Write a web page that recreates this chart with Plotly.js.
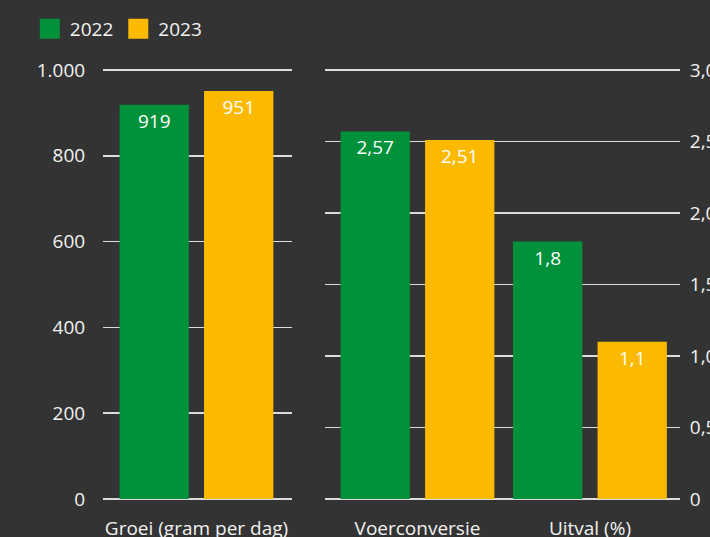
<!DOCTYPE html>
<html>
<head>
<meta charset="utf-8">
<script src="https://cdn.plot.ly/plotly-3.0.1.min.js"></script>
<style>html,body{margin:0;padding:0;background:#333333;}#chart{width:710px;height:537px;}</style>
</head>
<body>
<div id="chart"></div>
<script>
const years = ['2022', '2023'];
const leftCategories = ['Groei (gram per dag)'];
const left2022 = [919];
const left2023 = [951];
const rightCategories = ['Voerconversie', 'Uitval (%)'];
const right2022 = [2.57, 1.8];
const right2023 = [2.51, 1.1];
const leftTickVals = [0, 200, 400, 600, 800, 1000];
const rightTickVals = [0, 0.5, 1.0, 1.5, 2.0, 2.5, 3.0];
const rightTickText = ['0', '0,5', '1,0', '1,5', '2,0', '2,5', '3,0'];

const GREEN = '#00913a';
const YELLOW = '#fbba00';
const FONT = 'Open Sans, Noto Sans, sans-serif';
const TXT = '#f2f2f2';
const fmt = v => String(v).replace('.', ',');

function bar(x, y, color, xa, ya) {
  return {
    type: 'bar', x: x, y: y, xaxis: xa, yaxis: ya,
    marker: {color: color},
    text: y.map(fmt), textposition: 'inside', insidetextanchor: 'end',
    textangle: 0, constraintext: 'none',
    textfont: {color: '#ffffff', size: 19, family: FONT},
    showlegend: false, hoverinfo: 'skip'
  };
}

const data = [
  bar(leftCategories, left2022, GREEN, 'x', 'y'),
  bar(leftCategories, left2023, YELLOW, 'x', 'y'),
  bar(rightCategories, right2022, GREEN, 'x2', 'y2'),
  bar(rightCategories, right2023, YELLOW, 'x2', 'y2'),
  {type: 'scatter', mode: 'markers', x: [null], y: [null], name: years[0],
   marker: {symbol: 'square', size: 20, color: GREEN, line: {width: 4, color: GREEN}}, showlegend: true},
  {type: 'scatter', mode: 'markers', x: [null], y: [null], name: years[1],
   marker: {symbol: 'square', size: 20, color: YELLOW, line: {width: 4, color: YELLOW}}, showlegend: true}
];

const gridColor = '#dcdcdc';
const layout = {
  width: 710, height: 537,
  paper_bgcolor: '#333333', plot_bgcolor: '#333333',
  margin: {l: 0, r: 0, t: 67, b: 38},
  font: {family: FONT, size: 19, color: TXT},
  separators: ',.',
  barmode: 'group', bargap: 0.02, bargroupgap: 0.18,
  showlegend: true,
  legend: {orientation: 'h', x: 0.042, y: 1.088, xanchor: 'left', yanchor: 'middle',
           font: {size: 19, color: TXT, family: FONT}, bgcolor: 'rgba(0,0,0,0)',
           itemclick: false, itemdoubleclick: false},
  xaxis: {domain: [103/710, 292/710], type: 'category', range: [-0.542, 0.554],
          showgrid: false, zeroline: false, showline: false,
          ticks: 'outside', ticklen: 12, tickcolor: 'rgba(0,0,0,0)',
          tickfont: {size: 19, color: TXT}, fixedrange: true},
  yaxis: {anchor: 'x', range: [0, 1007], tickvals: leftTickVals, tickformat: ',d',
          showgrid: true, gridcolor: gridColor, gridwidth: 1.6,
          zeroline: true, zerolinecolor: gridColor, zerolinewidth: 1.6,
          showline: false, ticks: 'outside', ticklen: 13, tickcolor: 'rgba(0,0,0,0)',
          tickfont: {size: 19, color: TXT}, fixedrange: true},
  xaxis2: {domain: [325/710, 680/710], type: 'category', anchor: 'y2', range: [-0.536, 1.522],
           showgrid: false, zeroline: false, showline: false,
           ticks: 'outside', ticklen: 12, tickcolor: 'rgba(0,0,0,0)',
           tickfont: {size: 19, color: TXT}, fixedrange: true},
  yaxis2: {anchor: 'x2', side: 'right', range: [0, 3.021], tickvals: rightTickVals, ticktext: rightTickText,
           showgrid: true, gridcolor: gridColor, gridwidth: 1.6,
           zeroline: true, zerolinecolor: gridColor, zerolinewidth: 1.6,
           showline: false, ticks: 'outside', ticklen: 5, tickcolor: 'rgba(0,0,0,0)',
           tickfont: {size: 19, color: TXT}, fixedrange: true}
};

Plotly.newPlot('chart', data, layout, {displayModeBar: false, staticPlot: true});
</script>
</body>
</html>
